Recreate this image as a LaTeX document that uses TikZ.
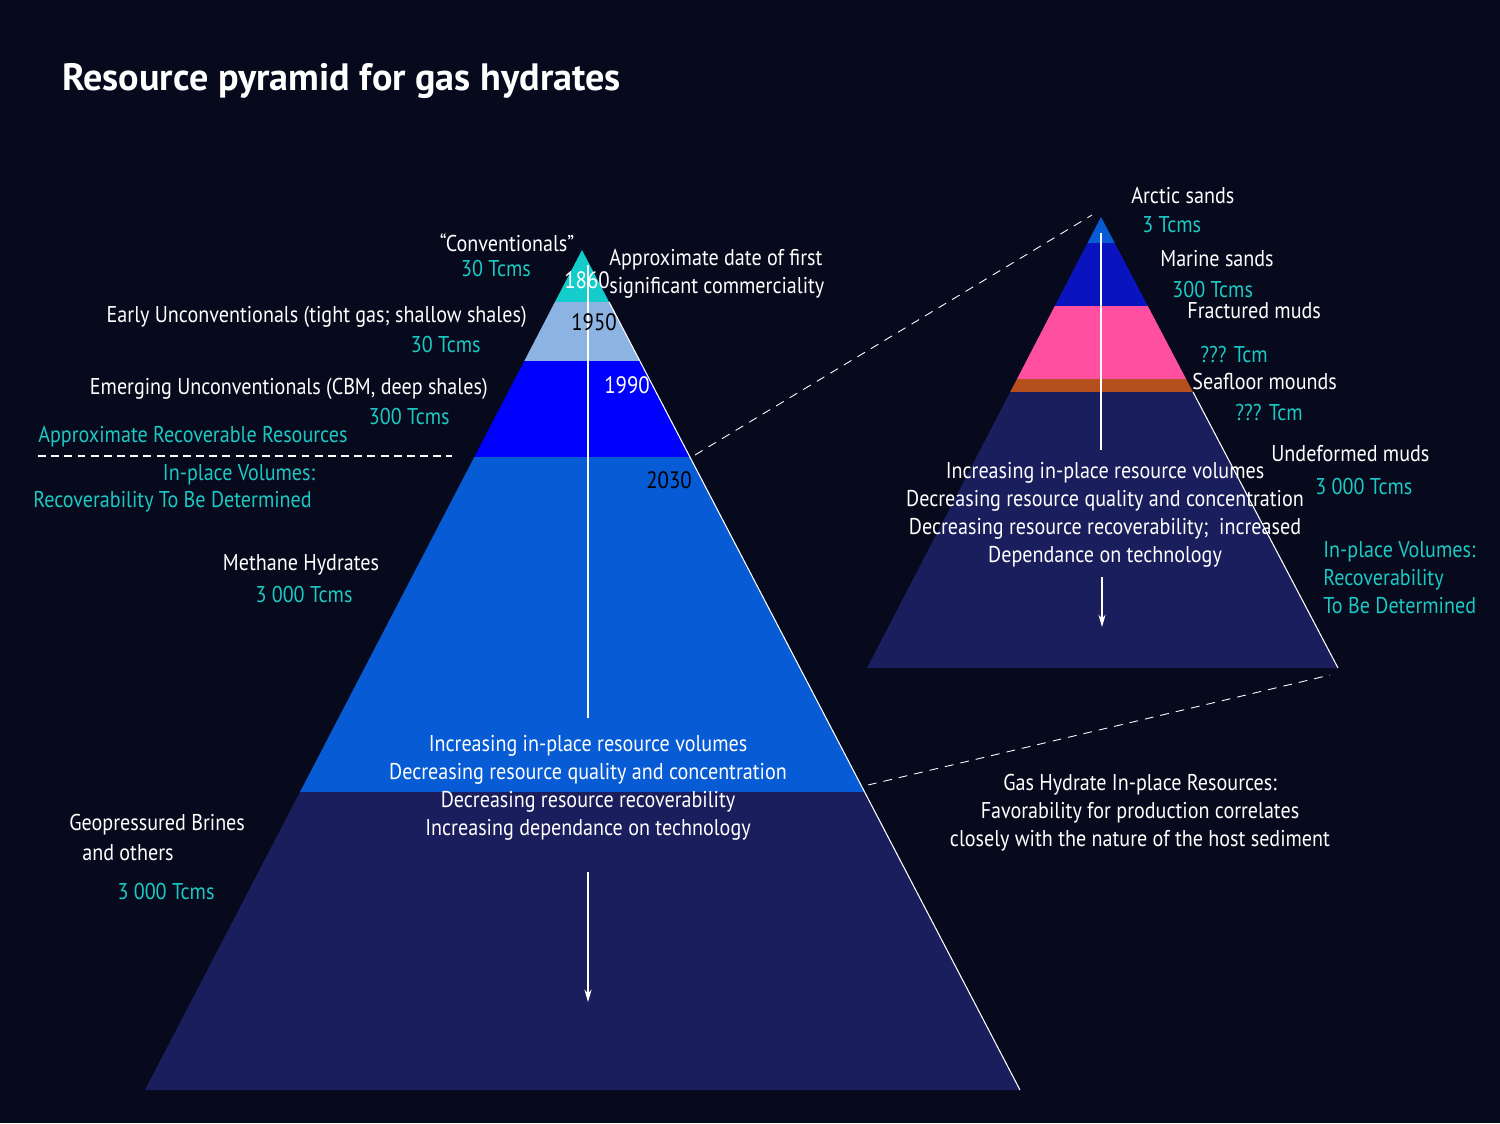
\documentclass[tikz,border=0pt]{standalone}
\usepackage{fontspec}
\setmainfont{PT Sans}[FakeStretch=0.88]
\newfontfamily\titlefont{PT Sans}
\usetikzlibrary{arrows.meta,positioning}
\definecolor{bgdark}{HTML}{070A1C}
\definecolor{tcmcyan}{HTML}{1CC8C4}
\definecolor{capcyan}{HTML}{14CCCC}
\definecolor{paleblue}{HTML}{8DB3E2}
\definecolor{pureblue}{HTML}{0000FF}
\definecolor{midblue}{HTML}{075CD6}
\definecolor{deepnavy}{HTML}{1A1E5C}
\definecolor{royal}{HTML}{0A14BE}
\definecolor{hotpink}{HTML}{FF4FA0}
\definecolor{rust}{HTML}{B5501E}

\begin{document}
\begin{tikzpicture}[x=0.02cm, y=-0.02cm,
  lbl/.style={text=white, font=\fontsize{13}{15.9}\selectfont, inner sep=0pt, yshift=-1.5pt},
  vol/.style={lbl, text=tcmcyan},
  yr/.style={lbl, font=\fontsize{13.5}{16}\selectfont},
  edge/.style={white, line width=0.6pt},
  axis/.style={white, line width=1.2pt},
  zoomline/.style={white, line width=0.5pt, dash pattern=on 5pt off 4pt}]

% Background
\fill[bgdark] (0,0) rectangle (1500,1123);
\useasboundingbox (0,0) rectangle (1500,1123);

\node[anchor=base west, text=white, font=\fontsize{21.7}{24}\titlefont\bfseries, inner sep=0pt] (title) at (62,90) {Resource pyramid for gas hydrates};

% Left pyramid
\coordinate (LA) at (582,250);
\coordinate (LL) at (145,1090);
\coordinate (LR) at (1020,1090);
\fill[capcyan] (LA) -- (554.9,302) -- (609.1,302) -- cycle;
\fill[paleblue] (554.9,302) -- (609.1,302) -- (639.9,361) -- (524.3,361) -- cycle;
\fill[pureblue] (524.3,361) -- (639.9,361) -- (689.9,457) -- (474.3,457) -- cycle;
\fill[midblue] (474.3,457) -- (689.9,457) -- (864.6,792) -- (300,792) -- cycle;
\fill[deepnavy] (300,792) -- (864.6,792) -- (LR) -- (LL) -- cycle;
\draw[edge] (609.1,302) -- (LR);

% Left axis
\coordinate (lt) at (588,265);
\coordinate (lb) at (588,718);
\coordinate (la1) at (588,872);
\coordinate (la2) at (588,1002);
\draw[axis] (lt) -- (lb);
\draw[axis, -{Stealth[length=7pt, width=4pt]}] (la1) -- (la2);

% Dates
\node[yr] (y1860) at (587,278) {1860};
\node[yr, text=black] (y1950) at (594,320) {1950};
\node[yr] (y1990) at (627,383) {1990};
\node[yr, text=black] (y2030) at (669,478) {2030};
\node[lbl, anchor=west, align=left] (datenote) at (609,271) {Approximate date of first\\significant commerciality};

% Left labels
\node[lbl] (conv) at (507,240) {“Conventionals”};
\node[vol] (convv) at (496,266) {30 Tcms};
\node[lbl, anchor=east] (early) at (527,314) {Early Unconventionals (tight gas; shallow shales)};
\node[vol, anchor=east] (earlyv) at (481,342) {30 Tcms};
\node[lbl, anchor=east] (emerg) at (488,386) {Emerging Unconventionals (CBM, deep shales)};
\node[vol, anchor=east] (emergv) at (450,414) {300 Tcms};
\node[vol, anchor=west] (recov) at (38,434) {Approximate Recoverable Resources};
\coordinate (divl) at (38,456);
\coordinate (divr) at (452,456);
\draw[white, line width=0.8pt, dash pattern=on 4.5pt off 3pt] (divl) -- (divr);
\node[vol] (inplace) at (239,472) {In-place Volumes:};
\node[vol, anchor=west] (tbd) at (33,499) {Recoverability To Be Determined};
\node[lbl] (mh) at (301,562) {Methane Hydrates};
\node[vol] (mhv) at (304,592) {3 000 Tcms};
\node[lbl, anchor=west] (brines) at (69,822) {Geopressured Brines};
\node[lbl, anchor=west] (others) at (82,850) {and others};
\node[vol] (brinesv) at (166,889) {3 000 Tcms};
\node[lbl, align=center] (trendl) at (588,785) {Increasing in-place resource volumes\\Decreasing resource quality and concentration\\Decreasing resource recoverability\\Increasing dependance on technology};

% Right pyramid
\coordinate (RA) at (1101,217);
\coordinate (RL) at (867,668);
\coordinate (RR) at (1338,668);
\fill[midblue] (RA) -- (1087.5,243) -- (1114.7,243) -- cycle;
\fill[royal] (1087.5,243) -- (1114.7,243) -- (1147.8,306) -- (1054.8,306) -- cycle;
\fill[hotpink] (1054.8,306) -- (1147.8,306) -- (1186.1,379) -- (1017,379) -- cycle;
\fill[rust] (1017,379) -- (1186.1,379) -- (1193,392) -- (1010.2,392) -- cycle;
\fill[deepnavy] (1010.2,392) -- (1193,392) -- (RR) -- (RL) -- cycle;
\draw[edge] (1193,392) -- (RR);

% Right axis
\coordinate (rt) at (1101,233);
\coordinate (rb) at (1101,450);
\coordinate (ra1) at (1102,577);
\coordinate (ra2) at (1102,627);
\draw[axis] (rt) -- (rb);
\draw[axis, -{Stealth[length=7pt, width=4pt]}] (ra1) -- (ra2);

% Zoom lines
\coordinate (zl1) at (695,455);
\coordinate (zr1) at (1092,215);
\coordinate (zl2) at (868,785);
\coordinate (zr2) at (1330,675);
\draw[zoomline] (zl1) -- (zr1);
\draw[zoomline] (zl2) -- (zr2);

% Right labels
\node[lbl, anchor=west] (arctic) at (1131,193) {Arctic sands};
\node[vol, anchor=west] (arcticv) at (1142,222) {3 Tcms};
\node[lbl, anchor=west] (marine) at (1160,256) {Marine sands};
\node[vol, anchor=west] (marinev) at (1172,287) {300 Tcms};
\node[lbl, anchor=west] (fract) at (1187,308) {Fractured muds};
\node[vol, anchor=west] (fractv) at (1200,352) {??? Tcm};
\node[lbl, anchor=west] (mounds) at (1192,379) {Seafloor mounds};
\node[vol, anchor=west] (moundsv) at (1235,410) {??? Tcm};
\node[lbl, anchor=west] (undef) at (1271,451) {Undeformed muds};
\node[vol, anchor=west] (undefv) at (1315,484) {3 000 Tcms};
\node[vol, anchor=west, align=left] (rtbd) at (1323,575) {In-place Volumes:\\Recoverability\\To Be Determined};
\node[lbl, align=center] (trendr) at (1105,512) {Increasing in-place resource volumes\\Decreasing resource quality and concentration\\Decreasing resource recoverability;\ \ increased\\Dependance on technology};
\node[lbl, align=center] (ghnote) at (1140,810) {Gas Hydrate In-place Resources:\\Favorability for production correlates\\closely with the nature of the host sediment};
\end{tikzpicture}
\end{document}
